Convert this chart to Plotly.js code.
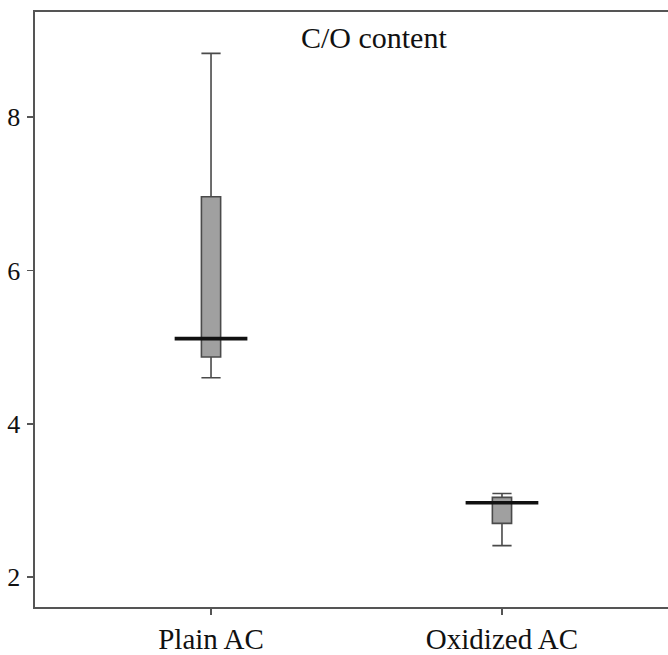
<!DOCTYPE html>
<html>
<head>
<meta charset="utf-8">
<script src="https://cdn.plot.ly/plotly-3.0.1.min.js"></script>
<style>
html,body{margin:0;padding:0;overflow:hidden;background:#fff;}
#chart{width:680px;height:655px;}
</style>
</head>
<body>
<div id="chart"></div>
<script>
// Data
var categories = ["Plain AC", "Oxidized AC"];
var lowerWhisker = [4.60, 2.41];
var q1Values = [4.87, 2.70];
var medianValues = [5.11, 2.97];
var q3Values = [6.96, 3.04];
var upperWhisker = [8.83, 3.09];
var yTickValues = [2, 4, 6, 8];
var yTickLabels = ["2", "4", "6", "8"];
var chartTitle = "C/O content";

var positions = categories.map(function (c, i) { return i; });

var boxTrace = {
  type: "box",
  x: positions,
  q1: q1Values,
  median: medianValues,
  q3: q3Values,
  lowerfence: lowerWhisker,
  upperfence: upperWhisker,
  width: 0.066,
  whiskerwidth: 1,
  fillcolor: "#a0a0a0",
  line: {color: "#4a4a4a", width: 1.6},
  hoverinfo: "skip",
  showlegend: false
};

var traces = [boxTrace];
var medHalf = 0.125;
positions.forEach(function (p, i) {
  traces.push({
    type: "scatter",
    mode: "lines",
    x: [p - medHalf, p + medHalf],
    y: [medianValues[i], medianValues[i]],
    line: {color: "#111111", width: 3.6},
    hoverinfo: "skip",
    showlegend: false
  });
});

var serif = "Liberation Serif, Times New Roman, serif";

var layout = {
  width: 680,
  height: 655,
  margin: {l: 35, r: 2, t: 12, b: 48},
  paper_bgcolor: "#ffffff",
  plot_bgcolor: "#ffffff",
  showlegend: false,
  title: {
    text: chartTitle,
    font: {family: serif, size: 30, color: "#111111"},
    x: 0.527, xanchor: "center",
    y: 0.957, yanchor: "middle",
    xref: "paper", yref: "paper"
  },
  xaxis: {
    type: "linear",
    range: [-0.605, 1.605],
    tickvals: positions,
    ticktext: categories,
    ticks: "outside",
    ticklen: 6,
    tickwidth: 1.5,
    tickcolor: "#555555",
    showline: true,
    linecolor: "#555555",
    linewidth: 1.6,
    mirror: true,
    showgrid: false,
    zeroline: false,
    tickfont: {family: serif, size: 29, color: "#111111"}
  },
  yaxis: {
    range: [1.61, 9.37],
    tickvals: yTickValues,
    ticktext: yTickLabels,
    ticks: "outside",
    ticklen: 6,
    tickwidth: 1.5,
    tickcolor: "#555555",
    showline: true,
    linecolor: "#555555",
    linewidth: 1.6,
    mirror: true,
    showgrid: false,
    zeroline: false,
    ticklabelstandoff: 2,
    tickfont: {family: serif, size: 26, color: "#111111"}
  }
};

Plotly.newPlot("chart", traces, layout, {staticPlot: true, displayModeBar: false});
</script>
</body>
</html>
